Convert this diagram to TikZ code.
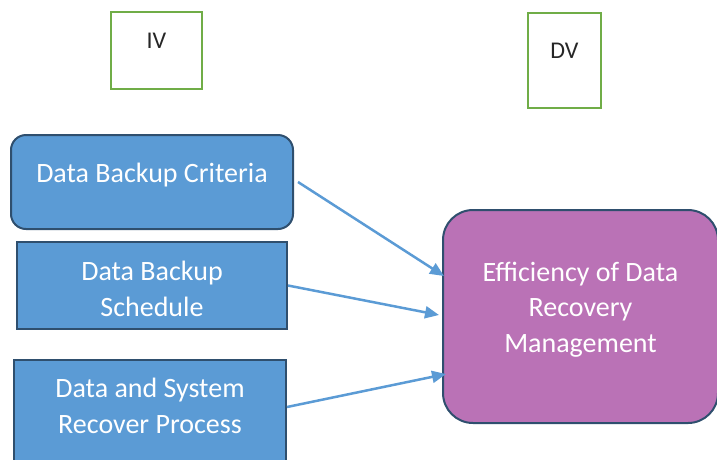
\documentclass[tikz,border=0pt]{standalone}
\usepackage{fontspec}
\setmainfont{Carlito}
\usetikzlibrary{arrows.meta}
\definecolor{boxblue}{HTML}{5B9BD5}
\definecolor{boxedge}{HTML}{2F4F6E}
\definecolor{boxpurple}{HTML}{BA72B6}
\definecolor{vargreen}{HTML}{70AD47}
\definecolor{vartext}{HTML}{262626}
\begin{document}
\begin{tikzpicture}[x=1pt,y=-1pt,
    var/.style={draw=vargreen,line width=2.5pt,fill=white,text=vartext,
      font=\fontsize{24}{29}\selectfont,text height=10pt,text depth=15pt},
    factor/.style={draw=boxedge,line width=2pt,fill=boxblue,text=white,
      align=center,font=\fontsize{28}{35.5}\selectfont},
    link/.style={draw=boxblue,line width=2.5pt,-{Triangle[length=14pt,width=12pt]}}]
    \useasboundingbox (0,0) rectangle (717,459);
    \clip (0,0) rectangle (717,459);
    \node[var,minimum width=91pt,minimum height=77pt] at (156.5,50.5) (iv) {IV};
    \node[var,minimum width=73pt,minimum height=95pt] at (564.5,60.5) (dv) {DV};
    \node[factor,rounded corners=15pt,minimum width=282pt,minimum height=94pt,
      text height=10pt,text depth=10pt] at (152,182) (crit) {Data Backup Criteria};
    \node[factor,minimum width=270pt,minimum height=85pt,
      text height=71pt,text depth=10pt] at (152,285.5) (sched) {Data Backup\\Schedule};
    \node[factor,minimum width=272pt,minimum height=120pt,
      text height=36pt,text depth=10pt] at (150,420) (proc) {Data and System\\Recover Process};
    \node[factor,fill=boxpurple,rounded corners=30pt,minimum width=275pt,minimum height=213pt,
      text height=81pt,text depth=10pt] at (580.5,316.5) (eff) {Efficiency of Data\\Recovery\\Management};
    \draw[link] ([xshift=4pt]crit.east) to ([yshift=40.5pt,xshift=2pt]eff.west);
    \draw[link] (sched.east) to ([yshift=1.5pt,xshift=-3pt]eff.west);
    \draw[link] ([yshift=13pt]proc.east) to ([yshift=-57.5pt,xshift=4pt]eff.west);
\end{tikzpicture}
\end{document}
